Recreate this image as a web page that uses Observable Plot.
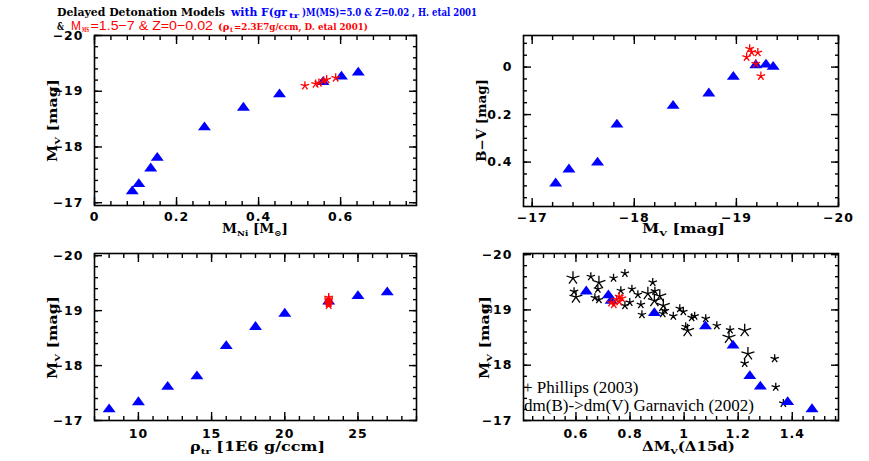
<!DOCTYPE html>
<html><head><meta charset="utf-8">
<script src="https://cdn.jsdelivr.net/npm/d3@7"></script>
<script src="https://cdn.jsdelivr.net/npm/@observablehq/plot@0.6"></script>
<style>
html,body{margin:0;padding:0;background:#fff;}
#wrap{position:relative;width:869px;height:461px;overflow:hidden;background:#fff;}
#wrap svg{position:absolute;left:0;top:0;}
</style></head><body><div id="wrap"></div>
<script>
// ---- H. et al. 2001 delayed detonation models (blue triangles) ----
const modelRho  = [8, 10, 12, 14, 16, 18, 20, 23, 25, 27];
const modelMNi  = [0.092, 0.108, 0.137, 0.153, 0.268, 0.363, 0.451, 0.557, 0.602, 0.643];
const modelMv   = [-17.23, -17.36, -17.64, -17.83, -18.38, -18.73, -18.97, -19.19, -19.29, -19.36];
const modelBV   = [0.484, 0.425, 0.396, 0.236, 0.157, 0.105, 0.035, -0.014, -0.017, -0.007];
const modelDm15 = [1.473, 1.383, 1.282, 1.243, 1.181, 1.079, 0.890, 0.730, 0.720, 0.638];

// ---- D. et al. 2001 models, M_MS = 1.5-7, Z = 0-0.02 (red stars) ----
const ddMNi  = [0.513, 0.539, 0.547, 0.559, 0.566, 0.588];
const ddMv   = [-19.10, -19.13, -19.15, -19.19, -19.21, -19.24];
const ddBV   = [-0.042, -0.077, -0.063, -0.014, -0.061, 0.038];
const ddRho  = [23, 23, 23, 23, 23, 23];
const ddDm15 = [0.74, 0.73, 0.76, 0.75, 0.77, 0.76];

// ---- observed SNe Ia (black stars), two sets ----
const obsAdm15 = [0.589, 0.685, 0.600, 0.866, 0.910, 0.890, 0.923, 1.013, 1.166, 1.224, 1.236];
const obsAMv   = [-19.575, -19.494, -19.231, -19.295, -19.250, -19.168, -19.078, -18.626, -18.505, -18.626, -18.204];
const obsBdm15 = [0.655, 0.739, 0.781, 0.593, 0.681, 0.670, 0.685, 0.766, 0.807, 0.829, 0.799, 0.781, 0.840, 0.844,
                  0.884, 0.892, 0.929, 0.921, 0.960, 0.984, 0.997, 1.006, 1.028, 1.039, 1.080, 1.121, 1.170,
                  1.224, 1.335, 1.339, 1.367];
const obsBMv   = [-19.602, -19.575, -19.662, -19.331, -19.376, -19.222, -19.186, -19.349, -19.376, -19.277, -19.137, -19.078, -19.096, -18.915,
                  -19.499, -19.340, -18.987, -18.933, -18.888, -19.024, -18.969, -18.698, -18.861, -18.888, -18.843, -18.716, -18.638,
                  -18.034, -18.119, -17.604, -17.311];

// ---- axes ticks ----
const p1XMajor = [0, 0.2, 0.4, 0.6];
const p2XMajor = [-17, -18, -19, -20];
const p2YMajor = [0, 0.2, 0.4];
const p3XMajor = [10, 15, 20, 25];
const p4XMajor = [0.6, 0.8, 1, 1.2, 1.4];
const magMajor = [-20, -19, -18, -17];

const BLUE = "#0000ff", RED = "#ff0000";
const fmt = d3.format("");

function minor(lo, hi, step) {
  const a = Math.min(lo, hi), b = Math.max(lo, hi);
  return d3.range(Math.ceil(a / step - 1e-9), Math.floor(b / step + 1e-9) + 1).map(i => +(i * step).toFixed(6));
}

const triSym = {draw(ctx, size) {
  const r = Math.sqrt(size / Math.PI), h = r * 0.68;
  ctx.moveTo(0, -h); ctx.lineTo(r, h); ctx.lineTo(-r, h); ctx.closePath();
}};
const starSym = {draw(ctx, size) {
  const r = Math.sqrt(size / Math.PI);
  for (let k = 0; k < 5; k++) {
    const a = -Math.PI / 2 + k * 2 * Math.PI / 5;
    ctx.moveTo(0, 0); ctx.lineTo(r * Math.cos(a), r * Math.sin(a));
  }
}};

const W = 869, H = 461;
function panel({L, R, T, B, xDomain, yDomain, xMajor, yMajor, xStep, yStep, xPad, marks}) {
  const xMin = minor(xDomain[0], xDomain[1], xStep), yMin = minor(yDomain[0], yDomain[1], yStep);
  const tk = (anchor, ticks, size, isX) => (isX ? Plot.axisX : Plot.axisY)({
    anchor, ticks, tickSize: -size, tickFormat: () => "", label: null, strokeWidth: 1.4
  });
  return Plot.plot({
    width: W, height: H,
    marginLeft: L, marginRight: W - R, marginTop: T, marginBottom: H - B,
    x: {domain: xDomain}, y: {domain: yDomain},
    style: "background: transparent; overflow: visible; font-family: 'DejaVu Sans'; font-size: 12.5px; font-weight: bold; letter-spacing: 1px; color: #000;",
    marks: [
      ...marks,
      tk("bottom", xMajor, 8, true), tk("top", xMajor, 8, true),
      tk("bottom", xMin, 4, true), tk("top", xMin, 4, true),
      tk("left", yMajor, 8, false), tk("right", yMajor, 8, false),
      tk("left", yMin, 4, false), tk("right", yMin, 4, false),
      Plot.axisX({anchor: "bottom", ticks: xMajor, tickSize: 0, tickPadding: xPad, tickFormat: fmt, label: null}),
      Plot.axisY({anchor: "left", ticks: yMajor, tickSize: 0, tickPadding: 11, tickFormat: fmt, label: null}),
      Plot.frame({stroke: "#000", strokeWidth: 1.6})
    ]
  });
}

const tri = (x, y) => Plot.dot(x, {x: (d, i) => x[i], y: (d, i) => y[i], symbol: triSym, r: 6.5, fill: BLUE, stroke: "none"});
const stars = (x, y, color, r) => Plot.dot(x, {x: (d, i) => x[i], y: (d, i) => y[i], symbol: starSym, r, fill: "none", stroke: color, strokeWidth: 1.3});

const wrap = document.getElementById("wrap");

wrap.appendChild(panel({
  L: 94, R: 416, T: 35, B: 205, xDomain: [0, 0.785], yDomain: [-16.95, -20],
  xMajor: p1XMajor, yMajor: magMajor, xStep: 0.04, yStep: 0.2, xPad: 7,
  marks: [tri(modelMNi, modelMv), stars(ddMNi, ddMv, RED, 4.5)]
}));
wrap.appendChild(panel({
  L: 523, R: 838, T: 35, B: 206, xDomain: [-16.915, -20], yDomain: [0.587, -0.133],
  xMajor: p2XMajor, yMajor: p2YMajor, xStep: 0.2, yStep: 0.05, xPad: 7,
  marks: [tri(modelMv, modelBV), stars(ddMv, ddBV, RED, 4.5)]
}));
wrap.appendChild(panel({
  L: 94, R: 416, T: 253, B: 420, xDomain: [7, 29], yDomain: [-17, -20.04],
  xMajor: p3XMajor, yMajor: magMajor, xStep: 1, yStep: 0.2, xPad: 9,
  marks: [tri(modelRho, modelMv), stars(ddRho, ddMv, RED, 4.5)]
}));
wrap.appendChild(panel({
  L: 523, R: 838, T: 253, B: 420, xDomain: [0.406, 1.571], yDomain: [-17, -20.02],
  xMajor: p4XMajor, yMajor: magMajor, xStep: 0.04, yStep: 0.2, xPad: 9,
  marks: [stars(obsBdm15, obsBMv, "#000", 4.4), stars(obsAdm15, obsAMv, "#000", 6.8),
          tri(modelDm15, modelMv), stars(ddDm15, ddMv, RED, 4.5)]
}));

// ---- titles, axis labels, legend text ----
const ns = "http://www.w3.org/2000/svg";
const over = document.createElementNS(ns, "svg");
over.setAttribute("width", W); over.setAttribute("height", H);
over.innerHTML = `
<g font-family="DejaVu Serif" font-weight="bold" font-size="11.5">
  <text x="57" y="15.5" textLength="168" lengthAdjust="spacingAndGlyphs">Delayed Detonation Models</text>
  <text x="231" y="15.5" fill="${BLUE}" textLength="56" lengthAdjust="spacingAndGlyphs">with F(gr</text>
  <text x="289" y="18" fill="${BLUE}" font-size="7" textLength="10" lengthAdjust="spacingAndGlyphs">tr</text>
  <text x="302" y="15.5" fill="${BLUE}" textLength="175" lengthAdjust="spacingAndGlyphs">)M(MS)=5.0 &amp; Z=0.02 , H. etal 2001</text>
  <text x="57" y="29.5" font-size="10.5" textLength="7" lengthAdjust="spacingAndGlyphs">&amp;</text>
  <text x="71" y="29.5" fill="${RED}" font-family="Liberation Sans" font-weight="normal" font-size="13" textLength="10" lengthAdjust="spacingAndGlyphs">M</text>
  <text x="82" y="31.5" fill="${RED}" font-size="7" textLength="7" lengthAdjust="spacingAndGlyphs">MS</text>
  <text x="90.5" y="29.5" fill="${RED}" font-family="Liberation Sans" font-weight="normal" font-size="13.5" textLength="122.5" lengthAdjust="spacingAndGlyphs">=1.5−7 &amp; Z=0−0.02</text>
  <text x="218" y="29.5" fill="${RED}" font-size="10">(ρ</text>
  <text x="230" y="31.5" fill="${RED}" font-size="6.5">t</text>
  <text x="234" y="29.5" fill="${RED}" font-size="10" textLength="134" lengthAdjust="spacingAndGlyphs">=2.3E7g/ccm, D. etal 2001)</text>
</g>
<g font-family="DejaVu Serif" font-weight="bold" font-size="12.5">
  <text x="222" y="233" textLength="66" lengthAdjust="spacingAndGlyphs">M<tspan font-size="8" dy="3">Ni</tspan><tspan dy="-3"> [M</tspan><tspan font-size="8" dy="3">⊙</tspan><tspan dy="-3">]</tspan></text>
  <text x="642" y="233" textLength="83" lengthAdjust="spacingAndGlyphs">M<tspan font-size="8" dy="3">V</tspan><tspan dy="-3"> [mag]</tspan></text>
  <text x="190" y="451" textLength="135" lengthAdjust="spacingAndGlyphs">ρ<tspan font-size="8" dy="3">tr</tspan><tspan dy="-3"> [1E6 g/ccm]</tspan></text>
  <text x="642" y="451" textLength="93" lengthAdjust="spacingAndGlyphs">ΔM<tspan font-size="8" dy="3">V</tspan><tspan dy="-3">(Δ15d)</tspan></text>
  <text transform="translate(57,162) rotate(-90)" textLength="83" lengthAdjust="spacingAndGlyphs">M<tspan font-size="8" dy="3">V</tspan><tspan dy="-3"> [mag]</tspan></text>
  <text transform="translate(486,162) rotate(-90)" textLength="83" lengthAdjust="spacingAndGlyphs">B−V [mag]</text>
  <text transform="translate(57,379) rotate(-90)" textLength="83" lengthAdjust="spacingAndGlyphs">M<tspan font-size="8" dy="3">V</tspan><tspan dy="-3"> [mag]</tspan></text>
  <text transform="translate(489,379) rotate(-90)" textLength="83" lengthAdjust="spacingAndGlyphs">M<tspan font-size="8" dy="3">V</tspan><tspan dy="-3"> [mag]</tspan></text>
</g>
<g font-family="Liberation Serif" font-size="17">
  <text x="523" y="393">+ Phillips (2003)</text>
  <text x="524" y="411" textLength="230" lengthAdjust="spacingAndGlyphs">dm(B)-&gt;dm(V) Garnavich (2002)</text>
</g>`;
wrap.appendChild(over);
</script></body></html>
